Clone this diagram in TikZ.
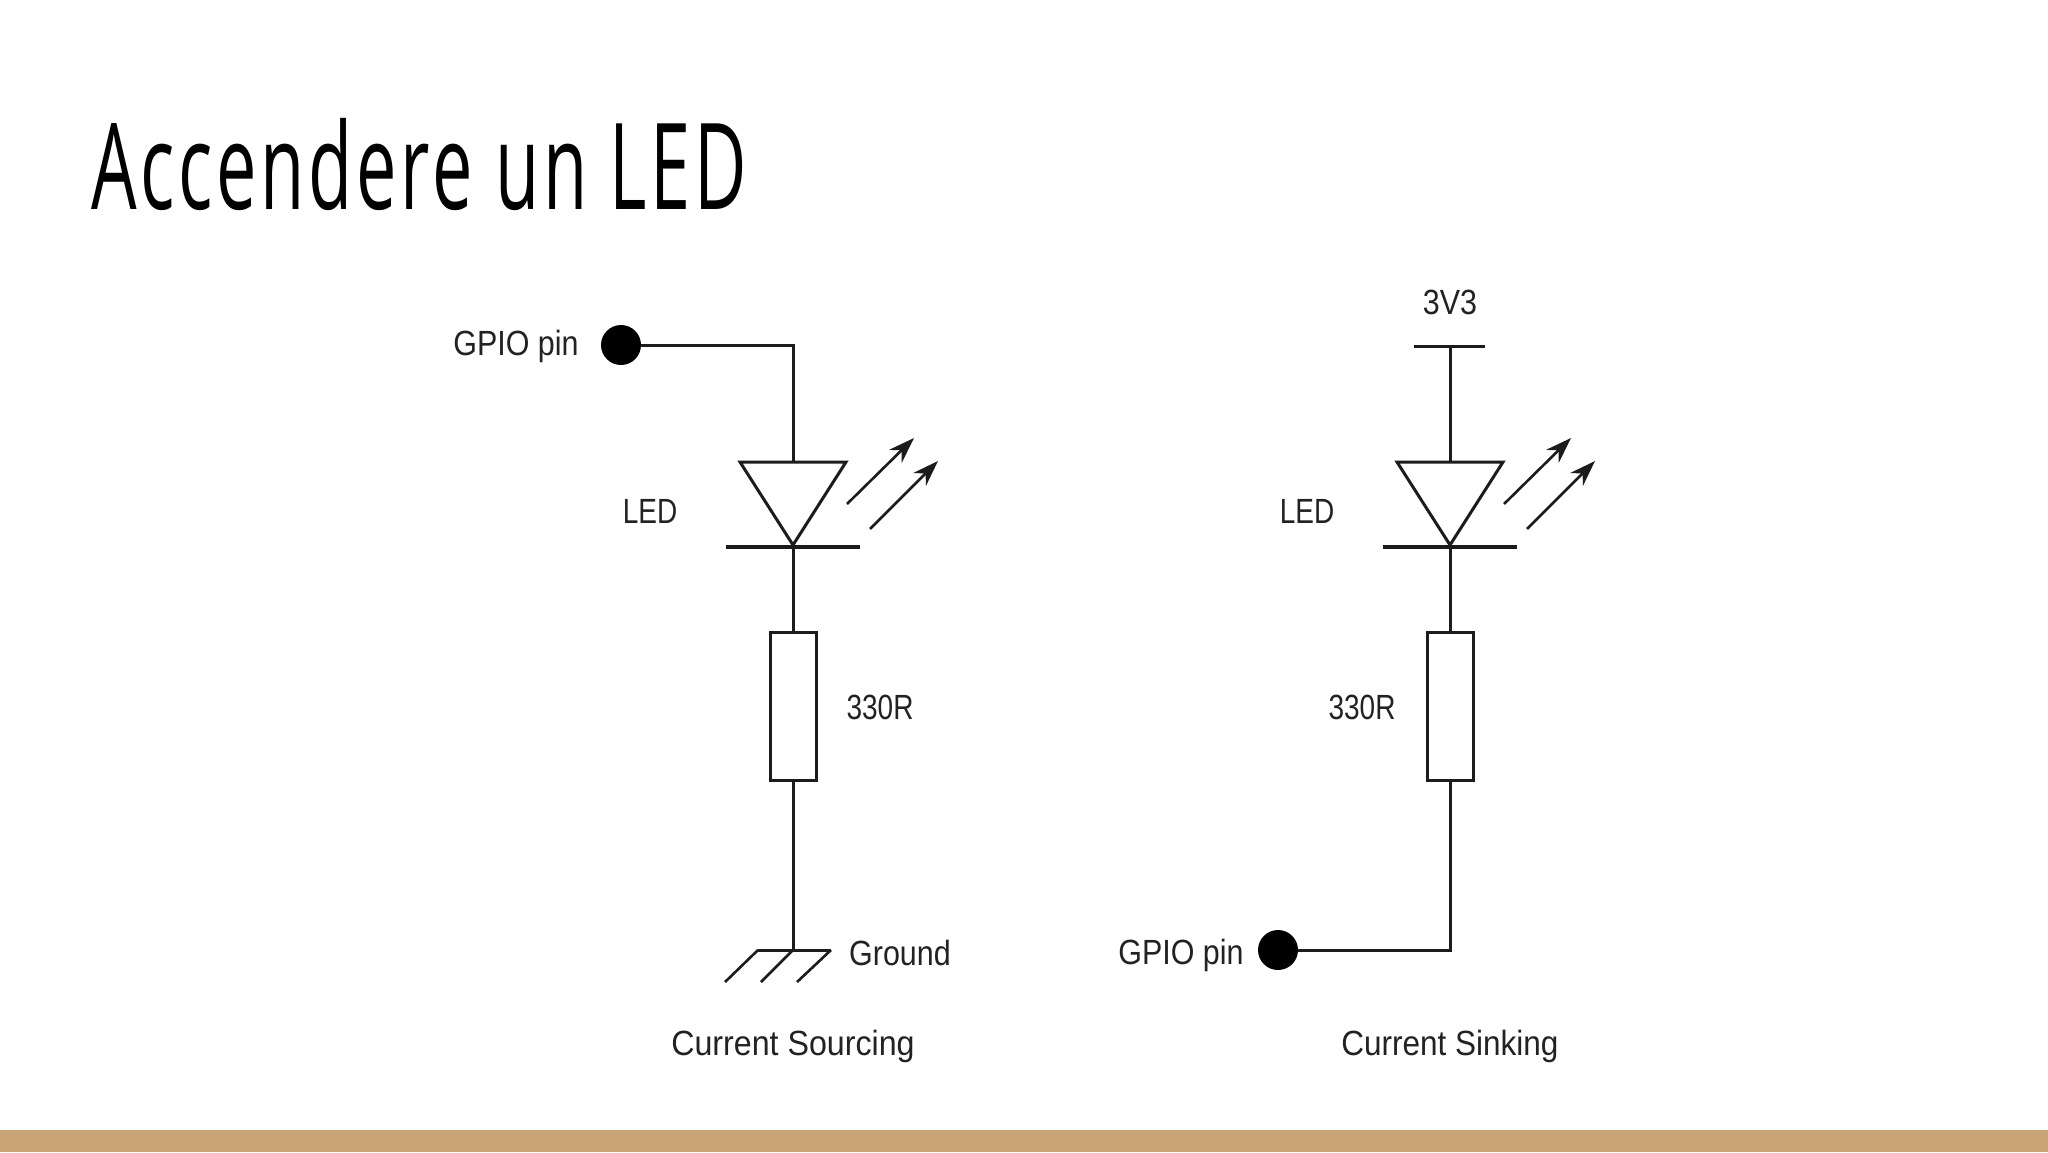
\documentclass[tikz,border=0pt]{standalone}
\usepackage{fontspec}
\setmainfont[FakeStretch=0.92]{Liberation Sans}
\newfontfamily\midfont[FakeStretch=0.87]{Liberation Sans}
\newfontfamily\sinkfont[FakeStretch=0.9]{Liberation Sans}
\newfontfamily\narrowfont[FakeStretch=0.8]{Liberation Sans}
\newfontfamily\titlefont[FakeStretch=0.6,LetterSpace=3.1]{Open Sans}
\definecolor{ink}{HTML}{1C1C1C}
\definecolor{labelink}{HTML}{222222}
\definecolor{band}{HTML}{C9A477}
\usetikzlibrary{arrows.meta}
\tikzset{
  wire/.style={draw=ink,line width=1.5pt},
  barline/.style={draw=ink,line width=2.2pt},
  ray/.style={draw=ink,line width=1.3pt,-{Stealth[length=13pt,width=9pt]}},
  hatch/.style={draw=ink,line width=1.3pt},
  lab/.style={inner sep=0pt,anchor=base,text=labelink,font=\fontsize{17.5pt}{20pt}\selectfont},
  dot/.style={circle,fill=black,inner sep=0pt,minimum size=20pt},
  res/.style={rectangle,draw=ink,line width=1.5pt,fill=white,minimum width=23pt,minimum height=74pt,inner sep=0pt},
  led/.style={draw=ink,line width=1.5pt,line join=miter}
}
\begin{document}
\begin{tikzpicture}[x=0.5pt,y=-0.5pt]
\useasboundingbox (0,0) rectangle (2048,1152);
\fill[white] (0,0) rectangle (2048,1152);
\fill[band] (0,1130) rectangle (2048,1152);
\node[inner sep=0pt,anchor=base west,font=\titlefont\fontsize{60pt}{66pt}\selectfont] (title) at (91,209) {Accendere un LED};

% left circuit
\node[dot] (dotA) at (621,345) {};
\node[lab] (gpioA) at (516,355) {\midfont GPIO pin};
\coordinate (ledTopA) at (793,462);
\coordinate (ledTipA) at (793,545);
\coordinate (barLA) at (726,547);
\coordinate (barRA) at (860,547);
\coordinate (barMA) at (793,547);
\node[res] (resA) at (793,706) {};
\coordinate (gndA) at (793,950);
\draw[wire] (dotA) -| (ledTopA);
\draw[led] (740,462) -- (846,462) -- (ledTipA) -- cycle;
\draw[barline] (barLA) -- (barRA);
\draw[wire] (barMA) -- (resA);
\draw[wire] (resA) -- (gndA);
\draw[ray] (847,504) -- (914,438);
\draw[ray] (870,529) -- (938,461);
\node[lab] (ledA) at (650,523) {\narrowfont LED};
\node[lab] (ohmA) at (880,719) {\narrowfont 330R};
\draw[wire] (758,950) -- (831,950);
\draw[hatch] (758,950) -- (725,982);
\draw[hatch] (793,950) -- (761,982);
\draw[hatch] (831,950) -- (797,982);
\node[lab] (gndlab) at (900,965) {\midfont Ground};
\node[lab] (capA) at (793,1055) {Current Sourcing};

% right circuit
\coordinate (railR) at (1450,346);
\node[lab] (vcc) at (1450,314) {\midfont 3V3};
\draw[wire] (1414,346) -- (1485,346);
\coordinate (ledTopB) at (1450,462);
\coordinate (ledTipB) at (1450,545);
\coordinate (barLB) at (1383,547);
\coordinate (barRB) at (1517,547);
\coordinate (barMB) at (1450,547);
\node[res] (resB) at (1450,706) {};
\node[dot] (dotB) at (1278,950) {};
\node[lab] (gpioB) at (1181,964) {\midfont GPIO pin};
\draw[wire] (railR) -- (ledTopB);
\draw[led] (1397,462) -- (1503,462) -- (ledTipB) -- cycle;
\draw[barline] (barLB) -- (barRB);
\draw[wire] (barMB) -- (resB);
\draw[wire] (resB) |- (dotB);
\draw[ray] (1504,504) -- (1571,438);
\draw[ray] (1527,529) -- (1595,461);
\node[lab] (ledB) at (1307,523) {\narrowfont LED};
\node[lab] (ohmB) at (1362,719) {\narrowfont 330R};
\node[lab] (capB) at (1450,1055) {\sinkfont Current Sinking};
\end{tikzpicture}
\end{document}
